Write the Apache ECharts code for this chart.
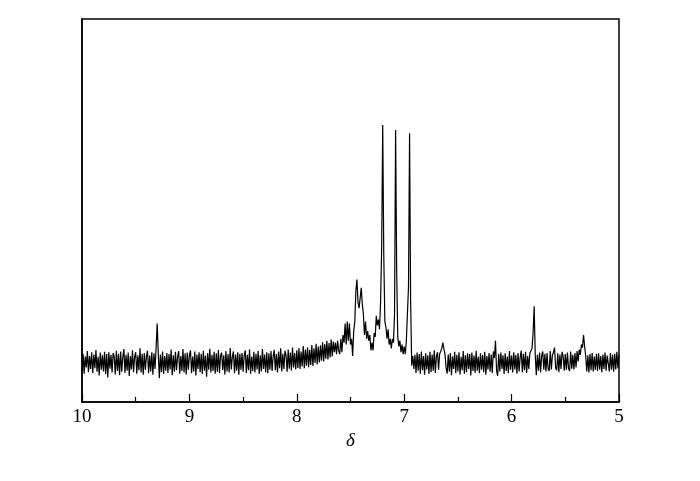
<!DOCTYPE html>
<html>
<head>
<meta charset="utf-8">
<script src="https://cdn.jsdelivr.net/npm/echarts@6/dist/echarts.min.js"></script>
<style>html,body{margin:0;padding:0;background:#fff}#chart{width:700px;height:481px}</style>
</head>
<body>
<div id="chart"></div>
<script>
// Chemical shift grid (ppm): from 10.00 down to 5.00 in 0.01 steps
var shiftStart = 10.00;
var shiftStep = 0.01;
var xTickLabels = ['10', '9', '8', '7', '6', '5'];
var axisName = 'δ';
// Intensities (arbitrary units, 0..100 full scale), one per 0.01 ppm
var intensity = [
 8.1, 12.6, 7.4, 11.9, 9.0, 13.3, 7.8, 12.0, 8.6, 13.0,
 7.5, 12.4, 8.8, 13.6, 7.9, 11.8, 6.9, 12.9, 8.4, 12.2,
 8.0, 13.1, 7.3, 12.5, 6.4, 13.0, 8.7, 12.3, 7.7, 12.8,
 11.9, 7.2, 13.4, 8.1, 12.6, 7.0, 13.2, 7.9, 11.7, 13.8,
 7.6, 12.3, 8.2, 12.9, 6.8, 12.0, 8.5, 13.5, 7.8, 11.8,
 13.0, 7.4, 12.2, 8.3, 14.0, 7.7, 12.6, 7.1, 12.8, 8.4,
 11.9, 13.4, 7.5, 12.1, 8.0, 13.0, 7.1, 12.7, 8.6, 14.1,
 20.5, 12.8, 6.2, 12.4, 7.8, 13.2, 7.3, 12.0, 8.2, 12.8,
 7.6, 12.5, 8.5, 13.7, 7.0, 12.2, 7.9, 13.1, 8.3, 11.8,
 13.3, 7.4, 12.0, 8.1, 13.8, 7.7, 12.7, 7.2, 12.9, 8.4,
 12.2, 13.5, 7.5, 11.9, 8.0, 13.2, 6.9, 12.4, 8.6, 13.0,
 7.8, 12.6, 7.3, 13.4, 8.2, 12.1, 6.6, 12.8, 8.4, 13.9,
 7.7, 12.3, 8.1, 13.1, 7.4, 12.7, 7.9, 13.6, 7.6, 12.0,
 12.9, 8.3, 12.2, 7.2, 13.3, 8.0, 12.5, 7.7, 14.1, 8.5,
 11.8, 13.2, 7.5, 12.4, 8.2, 13.0, 7.1, 12.6, 8.4, 12.8,
 7.9, 12.1, 13.5, 7.6, 12.3, 8.3, 13.7, 7.4, 11.9, 8.1,
 13.1, 7.7, 12.6, 8.5, 13.4, 7.3, 12.2, 8.0, 13.8, 8.6,
 12.4, 7.8, 13.0, 7.5, 12.7, 8.4, 13.3, 8.1, 12.0, 13.6,
 8.3, 12.5, 7.7, 13.2, 8.8, 14.0, 8.0, 12.6, 8.6, 13.4,
 12.2, 7.9, 13.7, 8.7, 12.9, 8.2, 14.2, 9.0, 12.8, 8.5,
 13.5, 8.9, 14.1, 8.6, 13.2, 9.3, 14.6, 8.8, 13.7, 9.5,
 14.3, 9.1, 13.6, 9.7, 14.9, 9.4, 14.0, 10.2, 15.2, 9.8,
 14.5, 10.3, 14.8, 10.8, 15.6, 10.6, 15.1, 11.3, 16.0, 11.1,
 15.4, 11.6, 16.3, 11.9, 15.8, 13.0, 15.5, 12.5, 16.0, 13.4,
 12.5, 16.5, 13.0, 17.5, 15.5, 20.5, 15.0, 21.0, 16.0, 20.5,
 15.0, 16.5, 12.0, 18.5, 21.0, 29.0, 32.0, 26.0, 24.5, 25.0,
 29.8, 25.5, 23.0, 17.5, 21.0, 16.5, 18.5, 16.0, 17.5, 13.5,
 15.5, 13.5, 18.0, 17.0, 22.5, 20.0, 21.5, 19.0, 26.0, 40.0,
 72.3, 38.0, 21.0, 19.5, 16.5, 19.0, 15.0, 16.5, 14.0, 16.5,
 15.5, 23.0, 71.0, 34.0, 17.0, 14.5, 16.0, 13.0, 15.0, 12.5,
 14.5, 12.5, 16.0, 15.5, 30.0, 70.2, 26.0, 9.5, 12.0, 8.6,
 12.3, 7.6, 12.9, 8.2, 12.5, 7.4, 13.2, 8.3, 12.0, 7.1,
 12.7, 8.5, 12.2, 7.3, 13.1, 7.8, 12.4, 8.2, 13.5, 7.6,
 12.0, 13.0, 8.4, 12.6, 13.2, 14.0, 15.5, 13.8, 12.5, 8.9,
 7.4, 12.4, 7.9, 12.8, 7.0, 11.9, 8.6, 13.1, 7.5, 12.3,
 8.0, 13.0, 7.2, 11.8, 8.3, 13.3, 7.4, 12.2, 7.8, 12.7,
 8.6, 12.5, 6.9, 12.9, 8.1, 12.1, 7.6, 13.4, 8.2, 11.8,
 7.5, 12.7, 8.4, 12.3, 7.8, 13.1, 7.1, 12.0, 8.5, 12.8,
 7.9, 12.4, 7.6, 13.2, 11.5, 16.0, 8.2, 6.8, 12.5, 8.0,
 12.9, 8.6, 12.2, 7.3, 12.7, 8.1, 11.9, 7.5, 13.3, 8.4,
 12.1, 7.7, 13.0, 8.5, 12.3, 7.4, 12.8, 8.0, 11.7, 13.4,
 7.8, 12.6, 8.3, 13.1, 7.6, 12.0, 8.6, 12.7, 12.5, 14.0,
 18.0, 25.0, 12.5, 7.0, 12.3, 8.2, 12.9, 7.7, 12.1, 13.2,
 8.4, 12.6, 8.0, 12.8, 8.7, 8.1, 13.3, 8.5, 12.2, 13.0,
 14.2, 8.9, 8.3, 12.7, 7.8, 12.4, 8.6, 13.1, 12.0, 8.2,
 12.5, 8.4, 12.9, 8.8, 8.1, 13.2, 8.7, 12.3, 8.5, 12.8,
 9.0, 13.3, 10.6, 13.7, 12.3, 15.0, 14.2, 17.5, 14.5, 12.0,
 8.0, 12.2, 7.7, 12.5, 8.3, 12.8, 8.0, 11.9, 8.4, 12.6,
 8.1, 12.7, 8.5, 12.0, 7.8, 12.4, 8.6, 12.9, 8.2, 12.1,
 11.7, 8.0, 12.8, 8.4, 12.3, 7.9, 12.6, 8.5, 13.1, 8.8,
 12.2
];

var seriesData = intensity.map(function (v, i) {
  return [+(shiftStart - i * shiftStep).toFixed(2), v];
});

var chart = echarts.init(document.getElementById('chart'), null, {renderer: 'canvas'});
var font = '"Liberation Serif", "Times New Roman", serif';
chart.setOption({
  animation: false,
  backgroundColor: '#fff',
  grid: {left: 82, right: 81, top: 19, bottom: 79, show: true, borderColor: '#000', borderWidth: 1.5, backgroundColor: 'transparent'},
  xAxis: {
    type: 'value', inverse: true, min: 5, max: 10, interval: 1,
    name: axisName, nameLocation: 'middle', nameGap: 27,
    nameTextStyle: {fontFamily: font, fontStyle: 'italic', fontSize: 19, color: '#000'},
    axisLine: {show: true, lineStyle: {color: '#000', width: 1.5}},
    axisTick: {show: true, inside: true, length: 8, lineStyle: {color: '#000', width: 1.2}},
    minorTick: {show: true, splitNumber: 2, length: 5, lineStyle: {color: '#000', width: 1.2}},
    axisLabel: {
      fontFamily: font, fontSize: 19, color: '#000', margin: 6,
      formatter: function (v) { var s = String(Math.round(v)); return xTickLabels.indexOf(s) >= 0 ? s : ''; }
    },
    splitLine: {show: false}, minorSplitLine: {show: false}
  },
  yAxis: {
    type: 'value', min: 0, max: 100,
    axisLine: {show: true, lineStyle: {color: '#000', width: 1.5}},
    axisTick: {show: false}, axisLabel: {show: false}, splitLine: {show: false}
  },
  series: [{
    type: 'line', data: seriesData, showSymbol: false, symbol: 'none',
    sampling: null, smooth: false,
    lineStyle: {color: '#000', width: 1.2}
  }]
});
</script>
</body>
</html>
